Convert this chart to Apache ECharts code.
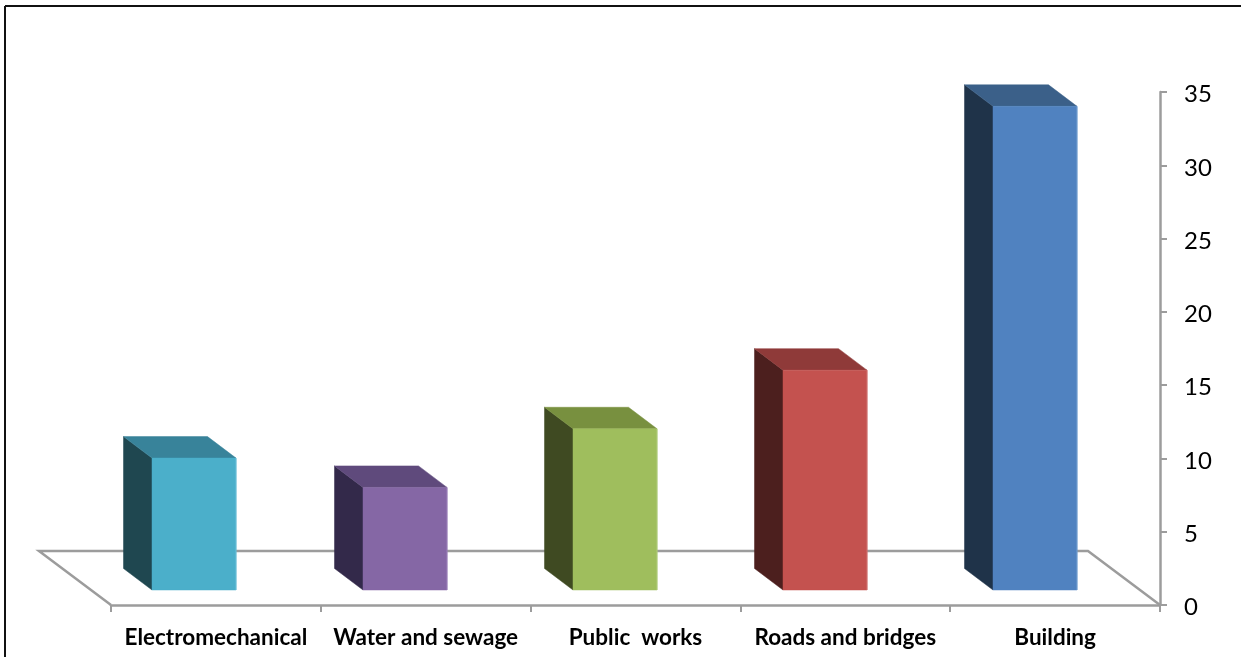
<!DOCTYPE html>
<html>
<head>
<meta charset="utf-8">
<style>html,body{margin:0;padding:0;background:#fff}#chart{width:1241px;height:657px}</style>
<script src="https://cdn.jsdelivr.net/npm/echarts@6/dist/echarts.min.js"></script>
</head>
<body>
<div id="chart"></div>
<script>
// Sector shares, drawn left to right
const categories = ['Electromechanical', 'Water and sewage', 'Public  works', 'Roads and bridges', 'Building'];
const values = [9, 7, 11, 15, 33];
const frontColors = ['#4bafca', '#8567a5', '#9fbe5d', '#c4524f', '#5082c0'];
const frontEdges = ['#6cc0d8', '#9a80b8', '#b0cc7c', '#d07472', '#74a0d0'];
const topColors = ['#38839a', '#5f4a7c', '#78903f', '#8f3a39', '#3b6089'];
const sideColors = ['#1f4750', '#33294a', '#3f4a22', '#4c1f1e', '#1f3349'];

const axisGrey = '#9c9c9c';
const depthX = 28.5, depthY = 21.5;      // prism depth
const liftY = 15;                        // prisms stand inside the floor plane
const faceLeft = -63.5, faceWidth = 84;  // front face relative to band centre
const floorDX = 72, floorDY = 54;        // floor parallelogram depth
const spread = 1.0022;                   // slight widening of the bar row towards the right

function poly(points, fill) {
  return { type: 'polygon', shape: { points }, style: { fill, stroke: fill, lineWidth: 0.5 } };
}

function renderPrism(params, api) {
  const i = params.dataIndex;
  const top = api.coord([api.value(0), api.value(1)]);
  const base = api.coord([api.value(0), 0]);
  const first = api.coord([0, 0])[0];
  const l = Math.round(first + (top[0] - first) * spread + faceLeft), r = l + faceWidth;
  const t = top[1] - liftY, b = base[1] - liftY;
  return {
    type: 'group',
    children: [
      poly([[l, t], [l - depthX, t - depthY], [l - depthX, b - depthY], [l, b]], sideColors[i]),
      poly([[l, t], [l - depthX, t - depthY], [r - depthX, t - depthY], [r, t]], topColors[i]),
      poly([[l, t], [r, t], [r, b], [l, b]], frontColors[i]),
      { type: 'line', shape: { x1: r, y1: t, x2: r, y2: b }, style: { stroke: frontEdges[i], lineWidth: 1 } }
    ]
  };
}

function renderFloor(params) {
  const g = params.coordSys;
  const y0 = g.y + g.height, x1 = g.x + g.width;
  return {
    type: 'polyline',
    shape: { points: [[g.x, y0], [g.x - floorDX, y0 - floorDY], [x1 - floorDX, y0 - floorDY], [x1, y0]] },
    style: { fill: null, stroke: axisGrey, lineWidth: 2.5 }
  };
}

const chart = echarts.init(document.getElementById('chart'), null, { renderer: 'canvas' });
chart.setOption({
  animation: false,
  backgroundColor: '#ffffff',
  grid: { left: 111, right: 81, top: 92, bottom: 52 },
  xAxis: {
    type: 'category',
    data: categories,
    axisLine: { lineStyle: { color: axisGrey, width: 2.5 } },
    axisTick: { show: true, alignWithLabel: false, length: 7, lineStyle: { color: axisGrey, width: 2 } },
    axisLabel: { interval: 0, margin: 21, color: '#000', fontFamily: 'Lato', fontWeight: 'bold', fontSize: 22.5 }
  },
  yAxis: {
    type: 'value',
    position: 'right',
    min: 0, max: 35, interval: 5,
    splitLine: { show: false },
    axisLine: { show: true, lineStyle: { color: axisGrey, width: 2.5 } },
    axisTick: { show: true, length: 7, lineStyle: { color: axisGrey, width: 2 } },
    axisLabel: {
      margin: 24,
      formatter: '{n|{value}}',
      rich: { n: { color: '#000', fontFamily: 'Lato', fontSize: 24, padding: [5, 0, 0, 0] } }
    }
  },
  series: [
    { type: 'custom', silent: true, z: 1, renderItem: renderFloor, data: [[0, 0]], clip: false },
    {
      type: 'custom', z: 3, clip: false,
      renderItem: renderPrism,
      encode: { x: 0, y: 1 },
      data: values.map((v, i) => [i, v])
    }
  ],
  graphic: [
    { type: 'line', z: 10, shape: { x1: 5, y1: 6, x2: 5, y2: 657 }, style: { stroke: '#111', lineWidth: 2 } },
    { type: 'line', z: 10, shape: { x1: 5, y1: 6, x2: 1241, y2: 6 }, style: { stroke: '#111', lineWidth: 2 } }
  ]
});
</script>
</body>
</html>
